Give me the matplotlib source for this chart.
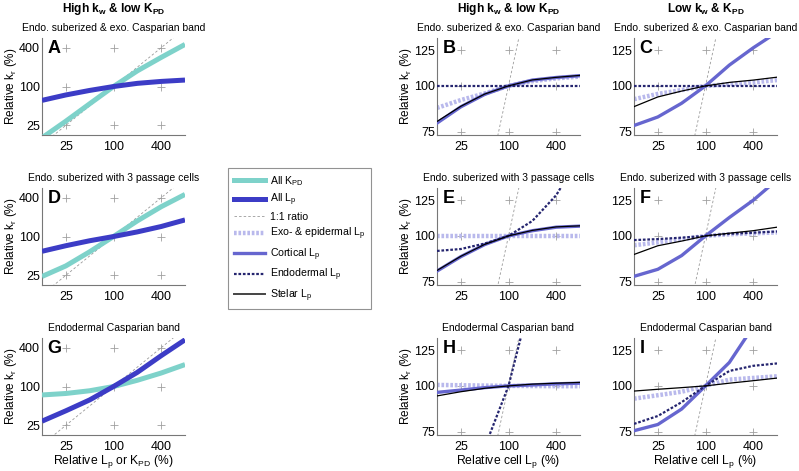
import numpy as np
import matplotlib
matplotlib.use('Agg')
import matplotlib.pyplot as plt
from matplotlib.lines import Line2D

plt.rcParams['font.family'] = ['Liberation Sans', 'DejaVu Sans']
plt.rcParams['mathtext.default'] = 'regular'

# relative value of the modified parameter (%)
x = [12.5, 25, 50, 100, 200, 400, 800]

# left column: all K_PD / all L_p
A_kpd = [16, 29, 54, 100, 175, 283, 450]
A_lp = [61, 74, 87, 100, 112, 120, 126]
D_kpd = [24, 35, 58, 100, 175, 290, 450]
D_lp = [59, 72, 86, 100, 118, 143, 181]
G_kpd = [74, 78, 86, 100, 125, 162, 219]
G_lp = [29, 42, 62, 100, 166, 301, 531]

# middle / right columns: single tissue L_p
B_exo = [87.1, 91.5, 95.4, 100, 103, 104.8, 106]
B_cort = [79.2, 87.7, 94.8, 100, 103.7, 105.4, 106.6]
B_endo = [100, 100, 100, 100, 100, 100, 100]
B_stel = [80, 88, 95, 100, 103.8, 105.5, 106.8]

C_exo = [92, 95.1, 97.4, 100, 101.1, 102.2, 103.7]
C_cort = [78, 82.3, 89.7, 100, 113.9, 126.9, 140]
C_endo = [100, 100, 100, 100, 100, 100, 100]
C_stel = [87.8, 93.3, 96.8, 100, 102.2, 103.7, 105.6]

E_exo = [100, 100, 100, 100, 100, 100, 100]
E_cort = [80.2, 87.8, 94.7, 100, 103.3, 105.6, 106.3]
E_endo = [91, 92.1, 95.3, 100, 109.8, 129, 165]
E_stel = [80.5, 88, 94.8, 100, 103.5, 105.8, 106.5]

F_exo = [94.3, 96, 97.9, 100, 101, 101.6, 102.2]
F_cort = [77.6, 81.1, 88.4, 100, 112.2, 125, 142]
F_endo = [97.4, 98, 98.9, 100, 101.3, 102, 102.8]
F_stel = [89, 94, 96.8, 100, 101.7, 103.3, 105.6]

H_exo = [100.6, 100.4, 100.2, 100, 99.9, 99.8, 99.8]
H_cort = [96, 97.4, 98.9, 100, 100.6, 101.3, 101.7]
H_endo = [25, 40, 68, 100, 180, 320, 560]
H_stel = [93.9, 96.4, 98.5, 100, 101.1, 101.7, 102.2]

I_exo = [92.3, 94.3, 96.4, 100, 104, 105.1, 106.2]
I_cort = [75.5, 78.5, 86.5, 100, 115.8, 145, 185]
I_endo = [78.8, 82.8, 90.3, 100, 109.8, 113.4, 115.1]
I_stel = [96.8, 97.9, 98.9, 100, 101.7, 103.3, 105]

xticks = [25, 100, 400]
yticks_left = [25, 100, 400]
yticks_right = [75, 100, 125]

subtitles = ['Endo. suberized & exo. Casparian band',
             'Endo. suberized with 3 passage cells',
             'Endodermal Casparian band']

c_kpd = '#7ed2ca'
c_lp = '#3c3cc6'
c_exo = '#b9b9ec'
c_cort = '#6666cf'
c_endo = '#25256f'
c_stel = '#000000'
c_one = '#9a9a9a'

fig = plt.figure(figsize=(7.99, 4.71), dpi=100)

col_left = [42 / 799, 437 / 799, 634 / 799]
row_bottom = [1 - 135 / 471, 1 - 285 / 471, 1 - 435 / 471]
w = 143 / 799
h = 97 / 471


def setup(ax, yticks, ylim, letter, title, ylabel=True, xlabel=None):
    ax.set_xscale('log')
    ax.set_yscale('log')
    ax.set_xlim(12.5, 800)
    ax.set_ylim(*ylim)
    ax.set_xticks(xticks)
    ax.set_xticklabels([str(t) for t in xticks])
    ax.set_yticks(yticks)
    ax.set_yticklabels([str(t) for t in yticks])
    ax.minorticks_off()
    ax.tick_params(length=0, labelsize=9)
    ax.tick_params(axis='x', pad=4)
    ax.tick_params(axis='y', pad=1.5)
    for s in ['top', 'right']:
        ax.spines[s].set_visible(False)
    for s in ['left', 'bottom']:
        ax.spines[s].set_color('#777777')
        ax.spines[s].set_linewidth(0.8)
    # grey "+" at tick crossings
    gx, gy = np.meshgrid(xticks, yticks)
    ax.plot(gx.ravel(), gy.ravel(), '+', color='#a0a0a0', ms=5.5, mew=0.6, zorder=0)
    ax.plot([1, 10000], [1, 10000], color=c_one, lw=0.6, ls=(0, (3, 2.5)), zorder=1)
    ax.text(0.04, 0.98, letter, transform=ax.transAxes, fontsize=13,
            fontweight='bold', ha='left', va='top')
    ax.set_title(title, fontsize=7.5, pad=5)
    if ylabel:
        ax.set_ylabel('Relative k$_r$ (%)', fontsize=8.5, labelpad=0)
    if xlabel:
        ax.set_xlabel(xlabel, fontsize=8.7, labelpad=0)


left_data = [(A_kpd, A_lp), (D_kpd, D_lp), (G_kpd, G_lp)]
mid_data = [(B_exo, B_cort, B_endo, B_stel),
            (E_exo, E_cort, E_endo, E_stel),
            (H_exo, H_cort, H_endo, H_stel)]
right_data = [(C_exo, C_cort, C_endo, C_stel),
              (F_exo, F_cort, F_endo, F_stel),
              (I_exo, I_cort, I_endo, I_stel)]
letters = [['A', 'B', 'C'], ['D', 'E', 'F'], ['G', 'H', 'I']]

for r in range(3):
    # left column
    ax = fig.add_axes([col_left[0], row_bottom[r], w, h])
    xl = 'Relative L$_p$ or K$_{PD}$ (%)' if r == 2 else None
    setup(ax, yticks_left, (17.7, 566), letters[r][0], subtitles[r], xlabel=xl)
    kpd, lp = left_data[r]
    ax.plot(x, kpd, color=c_kpd, lw=3.6, solid_capstyle='butt', zorder=3)
    ax.plot(x, lp, color=c_lp, lw=3.6, solid_capstyle='butt', zorder=3)

    # two single tissue columns
    for c, data in [(1, mid_data[r]), (2, right_data[r])]:
        ax = fig.add_axes([col_left[c], row_bottom[r], w, h])
        xl = 'Relative cell L$_p$ (%)' if r == 2 else None
        setup(ax, yticks_right, (73.5, 135), letters[r][c], subtitles[r],
              ylabel=(c == 1), xlabel=xl)
        exo, cort, endo, stel = data
        ax.plot(x, exo, color=c_exo, lw=3.2, ls=(0, (0.6, 0.4)), zorder=2)
        ax.plot(x, cort, color=c_cort, lw=2.4, zorder=3)
        ax.plot(x, endo, color=c_endo, lw=1.6, ls=(0, (1.2, 0.8)), zorder=4)
        ax.plot(x, stel, color=c_stel, lw=0.9, zorder=5)

# column headers
fig.text(113.5 / 799, 1 - 9 / 471, 'High k$_w$ & low K$_{PD}$', fontsize=8.6,
         fontweight='bold', ha='center', va='center')
fig.text(508.5 / 799, 1 - 9 / 471, 'High k$_w$ & low K$_{PD}$', fontsize=8.6,
         fontweight='bold', ha='center', va='center')
fig.text(705.5 / 799, 1 - 9 / 471, 'Low k$_w$ & K$_{PD}$', fontsize=8.6,
         fontweight='bold', ha='center', va='center')

handles = [
    Line2D([], [], color=c_kpd, lw=3.6),
    Line2D([], [], color=c_lp, lw=3.6),
    Line2D([], [], color=c_one, lw=0.6, ls=(0, (3, 2.5))),
    Line2D([], [], color=c_exo, lw=3.2, ls=(0, (0.6, 0.4))),
    Line2D([], [], color=c_cort, lw=2.4),
    Line2D([], [], color=c_endo, lw=1.6, ls=(0, (1.2, 0.8))),
    Line2D([], [], color='#444444', lw=1.4),
]
labels = ['All K$_{PD}$', 'All L$_p$', '1:1 ratio', 'Exo- & epidermal L$_p$',
          'Cortical L$_p$', 'Endodermal L$_p$', 'Stelar L$_p$']
leg = fig.legend(handles, labels, loc='upper left',
                 bbox_to_anchor=(228 / 799, 1 - 168 / 471), fontsize=7.6,
                 frameon=True, fancybox=False, edgecolor='#777777',
                 handlelength=3.0, labelspacing=0.38, borderpad=0.55,
                 handletextpad=0.4, borderaxespad=0)
leg.get_frame().set_linewidth(0.8)

fig.savefig('out.png', dpi=100)
